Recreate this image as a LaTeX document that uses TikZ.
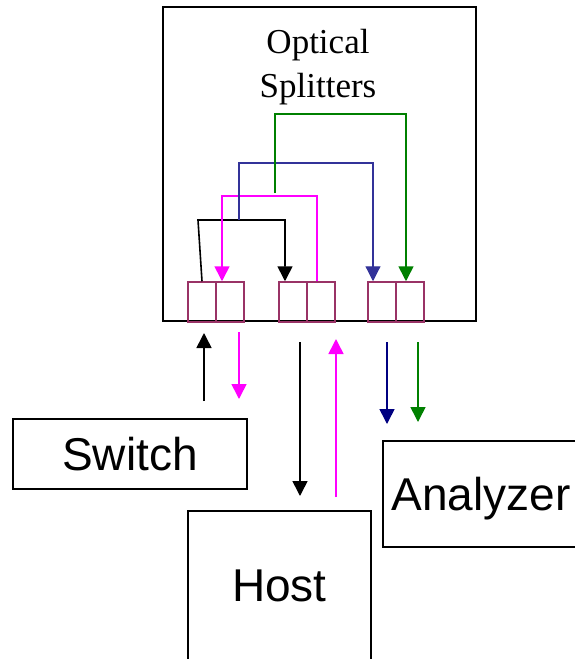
\documentclass[tikz,border=0pt]{standalone}
\usepackage{fontspec}
\setmainfont{Liberation Sans}
\newfontfamily\ttlfont{Liberation Serif}
\usepackage{tikz}
\usetikzlibrary{arrows.meta}
\definecolor{splitred}{HTML}{993366}
\definecolor{fibblue}{HTML}{333399}
\definecolor{fibgreen}{HTML}{008000}
\definecolor{fibnavy}{HTML}{000080}
\definecolor{fibpink}{HTML}{FF00FF}
\tikzset{
	box/.style={draw, line width=1.5pt, inner sep=0pt, text depth=0pt, font=\fontsize{46}{46}\selectfont},
	port/.style={draw=splitred, line width=1.5pt, minimum width=28pt, minimum height=40pt, inner sep=0pt},
	fibre/.style={line width=1.6pt, -{Triangle[length=15pt,width=15pt]}},
}

\begin{document}
\begin{tikzpicture}[x=1pt,y=-1pt]
		\useasboundingbox (0,0) rectangle (574,659);
		\node[box, minimum width=313pt, minimum height=314pt] (split) at (319.5,164) {};
		\node[font=\ttlfont\fontsize{35}{44}\selectfont, align=center, anchor=north, inner sep=0pt] (title) at (318,29) {Optical\\Splitters};
		\node[port] (s1a) at (202,302) {};
		\node[port] (s1b) at (230,302) {};
		\node[port] (s2a) at (293,302) {};
		\node[port] (s2b) at (321,302) {};
		\node[port] (s3a) at (382,302) {};
		\node[port] (s3b) at (410,302) {};
		\node[box, minimum width=234pt, minimum height=70pt] (switch) at (130,454) {Switch};
		\node[box, minimum width=183pt, minimum height=150pt] (host) at (279.5,586) {Host};
		\node[box, minimum width=196pt, minimum height=106pt] (analyzer) at (481,494) {Analyzer};
		%
		\coordinate (bkturn) at (198,220);
		\coordinate (mgturn) at (222,196);
		\coordinate (bltap) at (239,220);
		\coordinate (blturn) at (373,163);
		\coordinate (grtap) at (275,193);
		\coordinate (grturn) at (406,114);
		\draw [fibre] (s1a.north) -- (bkturn) -| ([xshift=-8pt]s2a.north);
		\draw [fibre, fibpink] ([xshift=-4pt]s2b.north) |- (mgturn) -- ([xshift=-8pt]s1b.north);
		\draw [fibre, fibblue, line width=1.2pt] (bltap) |- (blturn) -- ([xshift=-9pt]s3a.north);
		\draw [fibre, fibgreen] (grtap) |- (grturn) -- ([xshift=-4pt]s3b.north);
		%
		\coordinate (swup0) at (204,401);
		\coordinate (swup1) at (204,333);
		\coordinate (swdn0) at (239,332);
		\coordinate (swdn1) at (239,399);
		\coordinate (hsdn0) at (300,342);
		\coordinate (hsdn1) at (300,496);
		\coordinate (hsup0) at (336,497);
		\coordinate (hsup1) at (336,339);
		\coordinate (azb0) at (387,342);
		\coordinate (azb1) at (387,424);
		\coordinate (azg0) at (418,342);
		\coordinate (azg1) at (418,422);
		\draw [fibre] (swup0) to (swup1);
		\draw [fibre, fibpink] (swdn0) to (swdn1);
		\draw [fibre] (hsdn0) to (hsdn1);
		\draw [fibre, fibpink] (hsup0) to (hsup1);
		\draw [fibre, fibnavy] (azb0) to (azb1);
		\draw [fibre, fibgreen] (azg0) to (azg1);
	\end{tikzpicture}
\end{document}
